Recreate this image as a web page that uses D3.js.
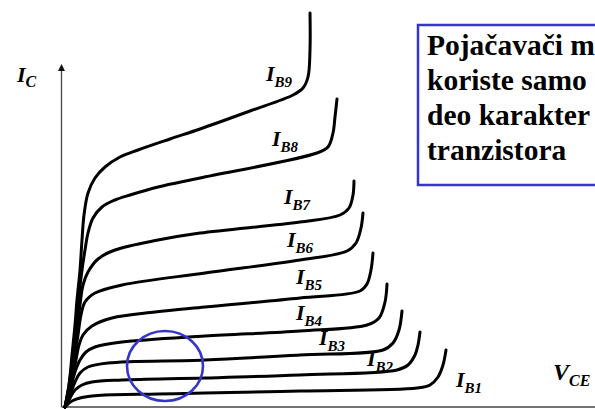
<!DOCTYPE html>
<html><head><meta charset="utf-8">
<script src="https://cdn.jsdelivr.net/npm/d3@7"></script>
<style>body{margin:0;background:#fff;overflow:hidden}svg{display:block}
text{font-family:"Liberation Serif","Times New Roman",Times,"Nimbus Roman","DejaVu Serif",serif;}</style>
</head><body>
<svg id="c" width="595" height="409"></svg>
<script>
// Curve names (base current) and their characteristic curves [V_CE, I_C] in arbitrary units
const seriesNames = ["IB1","IB2","IB3","IB4","IB5","IB6","IB7","IB8","IB9"];
const ib1 = [[0,0],[0.3,0.3],[0.7,0.6],[1.5,0.9],[2.7,1.1],[4.0,1.2],[9.3,1.3],[14.0,1.4],[23.5,1.6],[35.2,1.9],[36.5,2.2],[37.3,3.0],[37.8,4.2],[38.1,5.7]];
const ib2 = [[0,0],[0.5,0.9],[1.0,1.7],[1.7,2.2],[2.7,2.5],[5.7,2.7],[14.0,2.9],[23.5,3.2],[33.2,3.7],[34.3,4.2],[35.0,5.2],[35.3,6.2],[35.5,7.5]];
const ib3 = [[0,0],[0.5,1.2],[1.0,2.5],[1.5,3.4],[2.3,4.0],[4.3,4.4],[14.0,4.7],[23.5,5.2],[31.8,5.7],[32.8,6.4],[33.4,7.7],[33.7,9.6]];
const ib4 = [[0,0],[0.5,1.7],[1.0,3.5],[1.5,4.7],[2.1,5.5],[3.0,6.0],[5.7,6.5],[14.0,7.1],[23.5,7.6],[30.2,8.2],[31.4,8.9],[32.0,10.5],[32.2,12.3]];
const ib5 = [[0,0],[0.5,1.9],[1.0,4.2],[1.4,6.2],[1.8,7.2],[2.7,8.1],[4.7,8.9],[9.0,9.5],[14.0,10.0],[23.5,10.9],[29.5,11.6],[30.2,12.3],[30.6,13.7],[30.8,15.4]];
const ib6 = [[0,0],[0.5,2.2],[0.9,4.7],[1.3,7.2],[1.6,9.2],[2.0,10.5],[3.0,11.4],[5.7,12.2],[14.0,13.4],[23.5,14.7],[28.2,15.6],[29.1,16.4],[29.6,17.9],[29.8,19.4]];
const ib7 = [[0,0],[0.5,2.4],[0.9,5.2],[1.2,7.7],[1.5,10.2],[1.8,12.2],[2.3,13.5],[3.3,14.8],[5.0,15.7],[9.3,16.7],[13.5,17.4],[23.5,18.5],[27.5,19.2],[28.4,19.9],[28.8,21.2],[28.9,22.6]];
const ib8 = [[0,0],[0.4,2.2],[0.8,5.2],[1.1,8.2],[1.4,11.2],[1.7,13.7],[2.0,15.7],[2.3,17.4],[2.8,18.9],[3.7,20.0],[5.0,20.7],[6.5,21.2],[9.3,22.0],[13.5,22.9],[25.2,25.4],[26.3,26.0],[26.8,27.4],[27.0,29.0],[27.2,30.8]];
const ib9 = [[0,0],[0.4,2.2],[0.7,5.2],[1.0,8.2],[1.2,10.7],[1.5,13.7],[1.7,16.7],[1.9,19.2],[2.3,21.4],[3.0,22.9],[4.0,24.0],[5.5,25.0],[7.3,25.7],[10.5,26.8],[13.5,27.8],[18.5,29.6],[22.8,31.2],[23.8,31.9],[24.3,33.0],[24.5,35.7],[24.5,39.4]];
const curves = [ib1,ib2,ib3,ib4,ib5,ib6,ib7,ib8,ib9];
const subs = ["B1","B2","B3","B4","B5","B6","B7","B8","B9"];
// Operating region marker (ellipse) [centre V, centre I, radius V, radius I]
const region = [10.0, 4.1, 3.8, 3.5];
// Axis extents
const xAxisExtent = [-0.35, 53];
const yAxisExtent = [0, 34.3];
// Note text (as visible in the reference, clipped at the right edge)
const noteLines = ["Pojačavači m", "koriste samo", "deo karakter", "tranzistora"];

const svg = d3.select("#c");
const x = d3.scaleLinear().domain([0, 53]).range([65, 595]);
const y = d3.scaleLinear().domain([0, 40.7]).range([407, 0]);

// axes
svg.append("line").attr("x1", x(xAxisExtent[0])).attr("x2", x(xAxisExtent[1]))
  .attr("y1", y(0)).attr("y2", y(0)).attr("stroke","#444").attr("stroke-width",1.3);
svg.append("line").attr("x1", x(xAxisExtent[0])).attr("x2", x(xAxisExtent[0]))
  .attr("y1", y(0)).attr("y2", y(yAxisExtent[1]) + 5).attr("stroke","#444").attr("stroke-width",1.3);
svg.append("path").attr("d", d3.line()([[x(xAxisExtent[0]) - 3.5, y(yAxisExtent[1]) + 7],[x(xAxisExtent[0]), y(yAxisExtent[1])],[x(xAxisExtent[0]) + 3.5, y(yAxisExtent[1]) + 7]]) + "Z")
  .attr("fill","#111");

// curves
const line = d3.line().x(d => x(d[0])).y(d => y(d[1])).curve(d3.curveCatmullRom.alpha(0.5));
svg.append("g").selectAll("path").data(curves).join("path")
  .attr("d", line).attr("fill","none").attr("stroke","#000").attr("stroke-width",3)
  .attr("stroke-linecap","round").attr("stroke-linejoin","round");

// ellipse
svg.append("ellipse").attr("cx", x(region[0])).attr("cy", y(region[1]))
  .attr("rx", x(region[0]+region[2]) - x(region[0])).attr("ry", y(region[1]) - y(region[1]+region[3]))
  .attr("fill","none").attr("stroke","#3535c8").attr("stroke-width",2.6);

// labels
function label(px, py, main, sub, big, small, dy) {
  const t = svg.append("text").attr("x", px).attr("y", py)
    .attr("font-weight","bold").attr("font-style","italic").attr("fill","#000");
  t.append("tspan").attr("font-size", big).text(main);
  t.append("tspan").attr("font-size", small).attr("dy", dy).text(sub);
}
label(17, 82, "I", "C", 22, 16, 5);
label(553, 380, "V", "CE", 24, 16, 6);
const labelPos = [[456,387],[367,366],[319,345],[296,320],[296,284],[287,247],[284,204],[272,146],[266,81]];
subs.forEach((s,i) => label(labelPos[i][0], labelPos[i][1], "I", s, 22, 15, 6));

// note box
svg.append("rect").attr("x", 418).attr("y", 25).attr("width", 260).attr("height", 160)
  .attr("fill","#fff").attr("stroke","#3535c8").attr("stroke-width",2.5);
svg.append("g").selectAll("text").data(noteLines).join("text")
  .attr("x", 427).attr("y", (d,i) => 55 + i*35)
  .attr("font-weight","bold").attr("font-size", 29.5).attr("fill","#000")
  .text(d => d);
</script>
</body></html>
